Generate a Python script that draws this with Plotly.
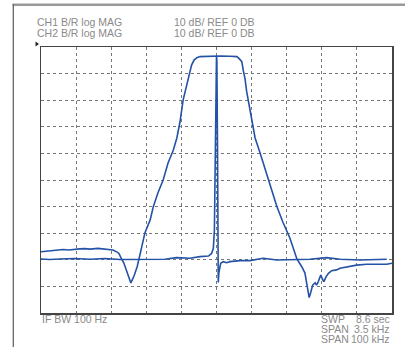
import plotly.graph_objects as go

# ---- data (x in screen divisions 0..10, y in dB, REF 0 dB at top, 10 dB/div) ----
ch1_div = [0.0, 0.17, 0.4, 0.63, 0.8, 0.97, 1.1, 1.25, 1.4, 1.62, 1.75, 1.88, 2.05, 2.17, 2.22,
           2.28, 2.36, 2.45, 2.56, 2.65, 2.74, 2.85, 2.96, 3.11, 3.2, 3.33, 3.48, 3.62, 3.77,
           3.87, 3.96, 4.05, 4.15, 4.25, 4.29, 4.36, 4.44, 4.53, 4.81, 5.1, 5.38, 5.58, 5.64,
           5.72, 5.77, 5.81, 5.86, 5.93, 6.0, 6.1, 6.24, 6.48, 6.72, 6.89, 7.09, 7.29, 7.43,
           7.52, 7.57, 7.59, 7.64, 7.68, 7.74, 7.81, 7.85, 7.9, 7.97, 8.03, 8.06, 8.12, 8.19,
           8.28, 8.42, 8.52, 8.66, 8.8, 8.99, 9.28, 9.56, 9.85, 10.0]
ch1_db = [-77.0, -76.7, -76.5, -76.1, -76.3, -76.0, -75.9, -75.8, -76.0, -75.7, -75.8, -75.9, -76.3,
          -77.1, -77.6, -79.3, -81.2, -84.6, -88.7, -86.1, -82.6, -76.3, -69.9, -65.0, -60.0,
          -54.9, -50.0, -43.6, -38.7, -34.2, -28.1, -19.9, -14.3, -9.8, -6.8, -4.9, -4.0, -3.6,
          -3.4, -3.4, -3.5, -3.6, -4.3, -5.5, -9.3, -11.7, -16.8, -21.8, -28.1, -34.2, -39.8,
          -50.0, -60.0, -65.8, -71.8, -79.7, -82.6, -85.0, -88.7, -90.1, -94.2, -92.5, -89.5,
          -88.6, -89.5, -88.2, -85.7, -87.6, -88.2, -86.4, -85.1, -84.1, -83.8, -83.2, -82.8,
          -82.6, -82.0, -81.7, -81.6, -81.7, -81.3]

ch2_div = [0.0, 0.25, 0.54, 0.97, 1.4, 1.82, 2.25, 2.68, 3.11, 3.53, 3.86, 4.24, 4.53, 4.77, 4.86,
           4.91, 4.94, 4.97, 4.99, 5.0, 5.01, 5.03, 5.04, 5.05, 5.07, 5.12, 5.19, 5.29, 5.38,
           5.67, 5.95, 6.33, 6.72, 7.28, 7.66, 8.14, 8.52, 9.09, 9.85]
ch2_db = [-79.7, -79.9, -79.7, -79.5, -79.8, -79.5, -79.9, -79.9, -80.0, -79.8, -79.2, -79.4, -78.8,
          -78.6, -77.6, -75.7, -68.8, -38.7, -8.6, -3.4, -4.9, -38.7, -72.6, -88.5, -84.6, -81.3,
          -80.7, -81.1, -80.7, -80.3, -80.3, -79.4, -80.1, -79.8, -79.8, -79.2, -79.8, -80.1,
          -79.8]

header_left = ["CH1 B/R log MAG", "CH2 B/R log MAG"]
header_right = ["10 dB/ REF 0 DB", "10 dB/ REF 0 DB"]
footer_left = "IF BW 100 Hz"
footer_labels = ["SWP", "SPAN", "SPAN"]
footer_values = ["8.6 sec", "3.5 kHz", "100 kHz"]

# ---- styling ----
W, H = 405, 347
L, R, T, B = 41, 392, 47, 313
TRACE = "#2352a6"
TXT = "#8a8a8a"
FONT = "Liberation Sans, Arial, sans-serif"


def px(x):
    return x / W


def py(y):
    return 1 - y / H


fig = go.Figure()
for xs, ys in [(ch1_div, ch1_db), (ch2_div, ch2_db)]:
    fig.add_trace(go.Scatter(x=xs, y=ys, mode="lines",
                             line=dict(color=TRACE, width=1.6), hoverinfo="skip",
                             showlegend=False))

axis_common = dict(showgrid=True, gridcolor="#777777", gridwidth=1, griddash="dot",
                   zeroline=False, showticklabels=False, ticks="",
                   showline=True, linecolor="#444444", linewidth=1.5, mirror=True,
                   fixedrange=True)
fig.update_xaxes(range=[0, 10], dtick=1, domain=[px(L), px(R)], **axis_common)
fig.update_yaxes(range=[-100, 0], dtick=10, domain=[py(B), py(T)], **axis_common)

ann = []
for i, (a, b) in enumerate(zip(header_left, header_right)):
    y = 22.3 + i * 11
    ann.append(dict(x=px(35), y=py(y), text=a, xanchor="left", yanchor="middle"))
    ann.append(dict(x=px(172), y=py(y), text=b, xanchor="left", yanchor="middle"))
ann.append(dict(x=px(40), y=py(319.3), text=footer_left, xanchor="left", yanchor="middle"))
for i, (a, b) in enumerate(zip(footer_labels, footer_values)):
    y = 319.3 + i * 10
    ann.append(dict(x=px(319), y=py(y), text=a, xanchor="left", yanchor="middle"))
    ann.append(dict(x=px(392), y=py(y), text=b, xanchor="right", yanchor="middle"))
for a in ann:
    a.update(xref="paper", yref="paper", showarrow=False,
             font=dict(family=FONT, size=10.5, color=TXT))

shapes = [
    # outer border lines
    dict(type="line", xref="paper", yref="paper", x0=px(12.5), x1=px(405), y0=py(4.8), y1=py(4.8),
         line=dict(color="#9a9a9a", width=2.5)),
    dict(type="line", xref="paper", yref="paper", x0=px(13.3), x1=px(13.3), y0=py(4), y1=py(347),
         line=dict(color="#666666", width=1.3)),
    # reference marker
    dict(type="path", xref="paper", yref="paper",
         path=f"M {px(35.5):.5f} {py(41.5):.5f} L {px(35.5):.5f} {py(46.5):.5f} "
              f"L {px(39):.5f} {py(44):.5f} Z",
         fillcolor="#222222", line=dict(width=0)),
]

fig.update_layout(width=W, height=H, margin=dict(l=0, r=0, t=0, b=0),
                  paper_bgcolor="white", plot_bgcolor="white",
                  annotations=ann, shapes=shapes)

fig.write_html("out.html", config={"displayModeBar": False, "staticPlot": True},
               post_script="document.body.style.margin='0';document.body.style.padding='0';"
                           "document.body.style.overflow='hidden';")
